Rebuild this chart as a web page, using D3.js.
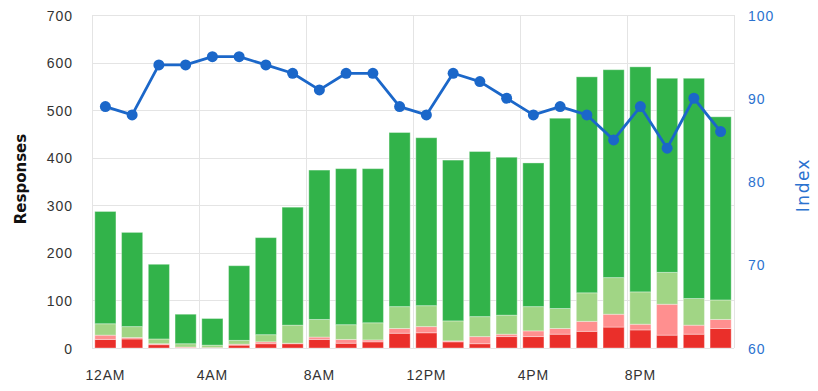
<!DOCTYPE html>
<html lang="en">
<head>
    <meta charset="UTF-8">
    <title>Responses by Hour</title>
    <style>
        body { margin: 0; background: #fff; }
        svg { display: block; font-family: "DejaVu Sans", Verdana, sans-serif; }
        .axis .domain { display: none; }
        .axis line { display: none; }
        .grid line { stroke: #e4e4e4; stroke-width: 1; }
    </style>
</head>
<body>
    <svg width="818" height="391"></svg>
    <script src="https://d3js.org/d3.v7.min.js"></script>
    <script>
        // hours of the day
        var hours = ["12AM","1AM","2AM","3AM","4AM","5AM","6AM","7AM","8AM","9AM","10AM","11AM",
                     "12PM","1PM","2PM","3PM","4PM","5PM","6PM","7PM","8PM","9PM","10PM","11PM"];
        var xTickLabels = ["12AM","4AM","8AM","12PM","4PM","8PM"];

        // stacked response counts, bottom to top
        var critical = [18,19,7,1,1,6,9,9,18,10,13,31,32,13,9,24,24,29,35,44,38,27,29,41];
        var poor     = [9,3,2,1,0,2,4,1,5,8,4,10,13,2,15,5,12,12,21,27,12,65,19,19];
        var fair     = [24,23,10,7,5,8,15,38,37,31,36,46,44,42,42,40,51,42,60,77,68,67,56,41];
        var good     = [236,198,157,62,56,157,204,248,314,328,324,366,353,338,347,332,302,400,454,437,473,408,463,385];

        // index line (right axis)
        var indexValues = [89,88,94,94,95,95,94,93,91,93,93,89,88,93,92,90,88,89,88,85,89,84,90,86];

        var leftTicks = [0,100,200,300,400,500,600,700];
        var rightTicks = [60,70,80,90,100];

        var keys = ["critical","poor","fair","good"];
        var colors = {critical: "#ea2f2a", poor: "#ff8f8f", fair: "#a1d585", good: "#32b34a"};

        var data = hours.map(function(h, i) {
            return {hour: h, critical: critical[i], poor: poor[i], fair: fair[i], good: good[i], index: indexValues[i]};
        });

        var svg = d3.select("svg"),
            margin = {top: 15, right: 84, bottom: 43, left: 92},
            width = +svg.attr("width") - margin.left - margin.right,
            height = +svg.attr("height") - margin.top - margin.bottom,
            g = svg.append("g").attr("transform", "translate(" + margin.left + "," + margin.top + ")");

        var x = d3.scaleBand()
            .domain(hours)
            .range([0, width])
            .paddingInner(0.21)
            .paddingOuter(0.105);

        var y = d3.scaleLinear().domain([0, 700]).range([height, 0]);
        var yRight = d3.scaleLinear().domain([60, 100]).range([height, 0]);

        var step = x.step();
        var cellStart = function(h) { return x(h) - step * x.paddingInner() / 2; };

        // grid
        var grid = g.append("g").attr("class", "grid");
        grid.selectAll("line.h")
            .data(leftTicks)
            .enter().append("line")
            .attr("class", "h")
            .attr("x1", 0).attr("x2", width)
            .attr("y1", function(d) { return Math.round(y(d)) + 0.5; })
            .attr("y2", function(d) { return Math.round(y(d)) + 0.5; });

        var vLines = xTickLabels.map(function(l) { return cellStart(l); }).concat([width]);
        grid.selectAll("line.v")
            .data(vLines)
            .enter().append("line")
            .attr("class", "v")
            .attr("y1", 0).attr("y2", height)
            .attr("x1", function(d) { return Math.round(d) + 0.5; })
            .attr("x2", function(d) { return Math.round(d) + 0.5; });

        // stacked bars
        var series = d3.stack().keys(keys)(data);

        g.append("g")
            .selectAll("g")
            .data(series)
            .enter().append("g")
                .attr("fill", function(d) { return colors[d.key]; })
            .selectAll("rect")
            .data(function(d) { return d; })
            .enter().append("rect")
                .attr("x", function(d) { return x(d.data.hour); })
                .attr("y", function(d) { return y(d[1]); })
                .attr("width", x.bandwidth())
                .attr("height", function(d) { return y(d[0]) - y(d[1]); })
                .attr("stroke", "rgba(255,255,255,0.35)")
                .attr("stroke-width", 1);

        // index line
        var line = d3.line()
            .x(function(d) { return x(d.hour) + x.bandwidth() / 2; })
            .y(function(d) { return yRight(d.index); });

        g.append("path")
            .datum(data)
            .attr("fill", "none")
            .attr("stroke", "#1b67c9")
            .attr("stroke-width", 2.8)
            .attr("stroke-linejoin", "round")
            .attr("d", line);

        g.append("g")
            .selectAll("circle")
            .data(data)
            .enter().append("circle")
            .attr("cx", function(d) { return x(d.hour) + x.bandwidth() / 2; })
            .attr("cy", function(d) { return yRight(d.index); })
            .attr("r", 5.5)
            .attr("fill", "#1b67c9");

        // axes
        g.append("g")
            .attr("class", "axis")
            .call(d3.axisLeft(y).tickValues(leftTicks).tickSize(0).tickPadding(19))
            .selectAll("text")
            .attr("fill", "#333")
            .attr("font-size", 14)
            .attr("letter-spacing", "1px")
            .attr("dy", "0.36em");

        g.append("g")
            .attr("class", "axis")
            .attr("transform", "translate(" + width + ",0)")
            .call(d3.axisRight(yRight).tickValues(rightTicks).tickSize(0).tickPadding(14))
            .selectAll("text")
            .attr("fill", "#2b72cf")
            .attr("font-size", 14)
            .attr("letter-spacing", "1px")
            .attr("dy", "0.36em");

        g.append("g")
            .attr("class", "axis")
            .attr("transform", "translate(0," + height + ")")
            .call(d3.axisBottom(x).tickValues(xTickLabels).tickSize(0).tickPadding(22))
            .selectAll("text")
            .attr("fill", "#333")
            .attr("font-size", 14)
            .attr("letter-spacing", "0.8px");

        // axis titles
        svg.append("text")
            .attr("transform", "translate(26," + 179 + ") rotate(-90)")
            .attr("text-anchor", "middle")
            .attr("font-size", 15)
            .attr("font-weight", "bold")
            .attr("fill", "#111")
            .text("Responses");

        svg.append("text")
            .attr("transform", "translate(809," + 185 + ") rotate(-90)")
            .attr("text-anchor", "middle")
            .attr("font-size", 17)
            .attr("letter-spacing", "1.5px")
            .attr("fill", "#2b72cf")
            .text("Index");
    </script>
</body>
</html>
